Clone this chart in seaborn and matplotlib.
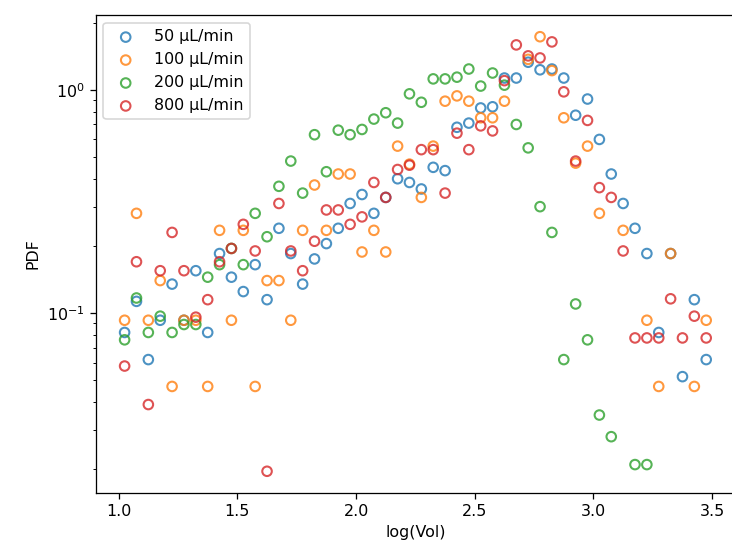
"""Flow-rate volume distributions: PDF of log(Vol) per flow rate."""

import matplotlib
matplotlib.use("Agg")
import matplotlib.pyplot as plt
import numpy as np
import pandas as pd
import seaborn as sns

NAN = np.nan

# bin centres of log(Vol)
LOG_VOL = [
    1.025, 1.075, 1.125, 1.175, 1.225, 1.275, 1.325, 1.375, 1.425, 1.475,
    1.525, 1.575, 1.625, 1.675, 1.725, 1.775, 1.825, 1.875, 1.925, 1.975,
    2.025, 2.075, 2.125, 2.175, 2.225, 2.275, 2.325, 2.375, 2.425, 2.475,
    2.525, 2.575, 2.625, 2.675, 2.725, 2.775, 2.825, 2.875, 2.925, 2.975,
    3.025, 3.075, 3.125, 3.175, 3.225, 3.275, 3.325, 3.375, 3.425, 3.475,
]

PDF_50 = [
    0.082, 0.113, 0.062, 0.093, 0.135, 0.093, 0.155, 0.082, 0.185, 0.145,
    0.125, 0.165, 0.115, 0.24, 0.185, 0.135, 0.175, 0.205, 0.24, 0.31,
    0.34, 0.28, 0.33, 0.40, 0.385, 0.36, 0.45, 0.435, 0.68, 0.71,
    0.83, 0.84, 1.13, 1.13, 1.33, 1.23, 1.24, 1.13, 0.77, 0.91,
    0.60, 0.42, 0.31, 0.24, 0.185, 0.082, 0.185, 0.052, 0.115, 0.062,
]
PDF_100 = [
    0.093, 0.28, 0.093, 0.14, 0.047, 0.093, 0.093, 0.047, 0.235, 0.093,
    0.235, 0.047, 0.14, 0.14, 0.093, 0.235, 0.375, 0.235, 0.42, 0.42,
    0.188, 0.235, 0.188, 0.56, 0.465, 0.33, 0.56, 0.89, 0.94, 0.89,
    0.75, 0.75, 0.89, NAN, 1.37, 1.73, 1.22, 0.75, 0.47, 0.56,
    0.28, NAN, 0.235, NAN, 0.093, 0.047, 0.185, NAN, 0.047, 0.093,
]
PDF_200 = [
    0.076, 0.117, 0.082, 0.097, 0.082, 0.089, 0.089, 0.145, 0.165, 0.195,
    0.165, 0.28, 0.22, 0.37, 0.48, 0.345, 0.63, 0.43, 0.66, 0.63,
    0.665, 0.74, 0.79, 0.71, 0.96, 0.88, 1.12, 1.12, 1.14, 1.24,
    1.04, 1.19, 1.05, 0.70, 0.55, 0.30, 0.23, 0.062, 0.11, 0.076,
    0.035, 0.028, NAN, 0.021, 0.021, NAN, NAN, NAN, NAN, NAN,
]
PDF_800 = [
    0.058, 0.17, 0.039, 0.155, 0.23, 0.155, 0.096, 0.115, 0.17, 0.195,
    0.25, 0.19, 0.0196, 0.31, 0.19, 0.155, 0.21, 0.29, 0.29, 0.25,
    0.27, 0.385, 0.33, 0.44, 0.46, 0.54, 0.54, 0.345, 0.64, 0.54,
    0.69, 0.655, 1.10, 1.59, 1.42, 1.39, 1.64, 0.98, 0.48, 0.73,
    0.365, 0.33, 0.19, 0.0775, 0.0775, 0.0775, 0.116, 0.0775, 0.097, 0.0775,
]

FLOW_LABELS = ["50 μL/min", "100 μL/min", "200 μL/min", "800 μL/min"]
SERIES = [PDF_50, PDF_100, PDF_200, PDF_800]


def main():
    df = pd.concat(
        [
            pd.DataFrame({"log_vol": LOG_VOL, "pdf": vals, "flow": label})
            for label, vals in zip(FLOW_LABELS, SERIES)
        ],
        ignore_index=True,
    ).dropna()

    colors = sns.color_palette("tab10", 4)
    fig = plt.figure(figsize=(6.4, 4.8), dpi=114.375)
    ax = fig.add_axes([0.1305, 0.102, 0.874, 0.8707])

    for label, color in zip(FLOW_LABELS, colors):
        sub = df[df["flow"] == label]
        sns.scatterplot(
            data=sub,
            x="log_vol",
            y="pdf",
            color=color,
            facecolor="none",
            edgecolor=color,
            s=36,
            linewidth=1.3,
            alpha=0.8,
            label=label,
            ax=ax,
        )

    ax.set_yscale("log")
    ax.set_xlabel("log(Vol)")
    ax.set_ylabel("PDF")
    ax.legend(loc="upper left")
    fig.savefig("out.png", dpi=114.375)


if __name__ == "__main__":
    main()
